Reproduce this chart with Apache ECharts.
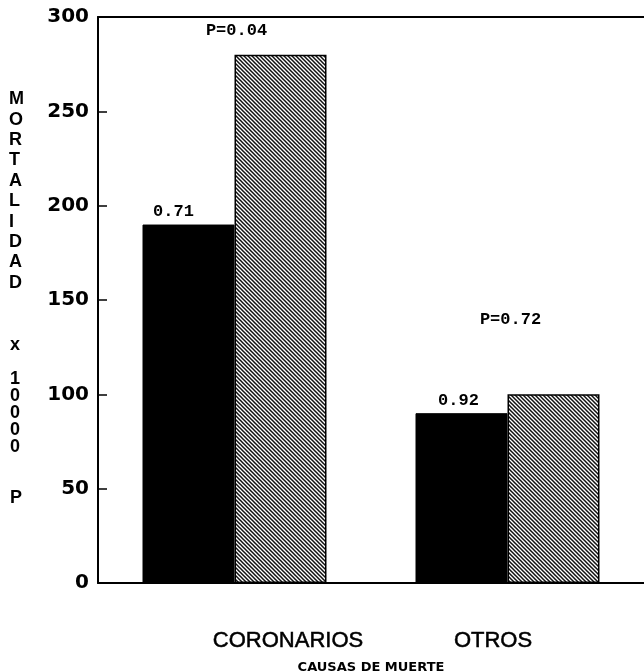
<!DOCTYPE html>
<html>
<head>
<meta charset="utf-8">
<script src="https://cdn.jsdelivr.net/npm/echarts@6/dist/echarts.min.js"></script>
<style>
  html, body { margin: 0; padding: 0; background: #fff; }
  #chart { width: 644px; height: 672px; }
</style>
</head>
<body>
<div id="chart"></div>
<script>
// Mortality per 10000 persons, by cause of death
const categories = ['CORONARIOS', 'OTROS'];
const groupA = [190, 90];          // solid black bars
const groupB = [280, 100];         // hatched bars
const labelsA = ['0.71', '0.92'];  // printed above the black bars
const labelsB = ['P=0.04', 'P=0.72']; // p-values above each pair
const yTicks = { min: 0, max: 300, interval: 50 };
const yTitleTop = 'MORTALIDAD';
const yTitleBottom = ['x', '', '1', '0', '0', '0', '0', '', '', 'P'];
const xTitle = 'CAUSAS DE MUERTE';

// diagonal hatch fill
function hatch() {
  const c = document.createElement('canvas');
  c.width = 4; c.height = 4;
  const g = c.getContext('2d');
  g.fillStyle = '#fff';
  g.fillRect(0, 0, 4, 4);
  g.strokeStyle = '#111';
  g.lineWidth = 1.5;
  g.beginPath();
  g.moveTo(-1, -1); g.lineTo(5, 5);
  g.moveTo(-1, 3); g.lineTo(1, 5);
  g.moveTo(3, -1); g.lineTo(5, 1);
  g.stroke();
  return c;
}

const chart = echarts.init(document.getElementById('chart'), null, { renderer: 'canvas' });

const monoLabel = {
  fontFamily: 'Liberation Mono', fontWeight: 'bold', fontSize: 17, color: '#000'
};

const catFont = {
  fontFamily: 'Liberation Sans', fontSize: 22, color: '#000',
  textBorderColor: '#000', textBorderWidth: 0.5
};
const catRich = {
  a: { ...catFont, padding: [0, 0, 0, 107] },
  b: { ...catFont, padding: [0, 29, 0, 0] }
};

chart.setOption({
  animation: false,
  backgroundColor: '#fff',
  grid: { left: 98, right: 0, top: 17, bottom: 89, outerBoundsMode: 'none', containLabel: false },
  xAxis: [{
    type: 'category',
    data: categories,
    axisLine: { show: true, lineStyle: { color: '#000', width: 2 } },
    axisTick: { show: false },
    axisLabel: {
      margin: 47,
      formatter: (v, i) => (i === 0 ? '{a|' + v + '}' : '{b|' + v + '}'),
      rich: catRich
    },
    name: xTitle,
    nameLocation: 'middle',
    nameGap: 78,
    nameTextStyle: { fontFamily: 'DejaVu Sans', fontWeight: 'bold', fontSize: 13, color: '#000' }
  }, {
    type: 'category',
    data: categories,
    position: 'top',
    axisLine: { show: true, lineStyle: { color: '#000', width: 2 } },
    axisTick: { show: false },
    axisLabel: { show: false }
  }],
  yAxis: {
    type: 'value',
    min: yTicks.min, max: yTicks.max, interval: yTicks.interval,
    axisLine: { show: true, lineStyle: { color: '#000', width: 2 } },
    axisTick: { show: true, inside: true, length: 9, lineStyle: { color: '#000', width: 1.5 } },
    splitLine: { show: false },
    axisLabel: {
      margin: 9,
      fontFamily: 'DejaVu Sans', fontWeight: 'bold', fontSize: 20, color: '#000'
    }
  },
  series: [{
    type: 'bar',
    data: groupA.map((v, i) => ({
      value: v,
      label: {
        show: true, position: 'top', distance: 4,
        offset: i === 0 ? [-15, 0] : [-3, 0],
        formatter: labelsA[i], ...monoLabel
      }
    })),
    barWidth: 92,
    barGap: '0%',
    itemStyle: { color: '#000', borderColor: '#000', borderWidth: 1 }
  }, {
    type: 'bar',
    data: groupB.map((v, i) => ({
      value: v,
      label: {
        show: true, position: 'top', distance: 4,
        offset: i === 0 ? [-44, -12] : [-43, -62],
        formatter: labelsB[i], ...monoLabel
      }
    })),
    barWidth: 92,
    itemStyle: {
      color: { image: hatch(), repeat: 'repeat' },
      borderColor: '#000', borderWidth: 1.5
    }
  }],
  graphic: [{
    type: 'text', left: 9, top: 89,
    style: {
      text: yTitleTop.split('').join('\n'),
      fontFamily: 'Liberation Sans', fontWeight: 'bold', fontSize: 18,
      lineHeight: 20.4, fill: '#000', align: 'center'
    }
  }, {
    type: 'text', left: 10, top: 336,
    style: {
      text: yTitleBottom.join('\n'),
      fontFamily: 'Liberation Sans', fontWeight: 'bold', fontSize: 18,
      lineHeight: 17, fill: '#000', align: 'center'
    }
  }]
});
</script>
</body>
</html>
